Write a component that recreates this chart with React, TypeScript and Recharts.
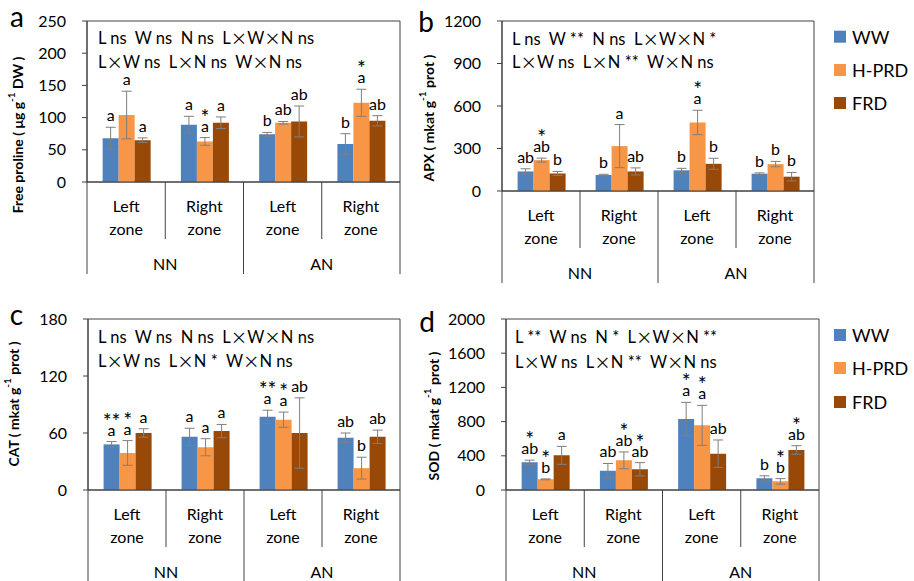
import React from 'react'
import { BarChart, Bar, XAxis, YAxis, ErrorBar, LabelList, ReferenceArea } from 'recharts'

const FONT = 'Lato, "Liberation Sans", sans-serif'
const CJK = '"Noto Sans CJK SC", sans-serif'
const AXIS = '#404040'
const ERR = '#7f7f7f'

const zones = ['Left', 'Right', 'Left', 'Right']
const groups = ['NN', 'NN', 'AN', 'AN']
const seriesNames = ['WW', 'H-PRD', 'FRD']
const colors = ['#4F81BD', '#F79646', '#984807']

// a: free proline
const prolineWW = [68, 89, 74, 59]
const prolineHPRD = [104, 63, 92, 123]
const prolineFRD = [65, 92, 94, 95]
const prolineWWErr = [17, 13, 3, 16]
const prolineHPRDErr = [37, 6, 2, 21]
const prolineFRDErr = [3.5, 9, 24, 8]
const prolineLetters = [['a', 'a', 'b', 'b'], ['a', 'a', 'ab', 'a'], ['a', 'a', 'ab', 'ab']]
const prolineStars = [['', '', '', ''], ['', '*', '', '*'], ['', '', '', '']]
const prolineTicks = [0, 50, 100, 150, 200, 250]
const prolineNotes = ['L ns  W ns  N ns  L×W×N ns', 'L×W ns  L×N ns  W×N ns']

// b: APX
const apxWW = [138, 113, 146, 122]
const apxHPRD = [218, 317, 484, 190]
const apxFRD = [124, 138, 192, 101]
const apxWWErr = [19, 5, 14, 6]
const apxHPRDErr = [14, 152, 86, 19]
const apxFRDErr = [14, 25, 39, 30]
const apxLetters = [['ab', 'b', 'b', 'b'], ['ab', 'a', 'a', 'b'], ['b', 'ab', 'b', 'b']]
const apxStars = [['', '', '', ''], ['*', '', '*', ''], ['', '', '', '']]
const apxTicks = [0, 300, 600, 900, 1200]
const apxNotes = ['L ns  W **  N ns  L×W×N *', 'L×W ns  L×N **  W×N ns']

// c: CAT
const catWW = [48, 56, 77, 55]
const catHPRD = [39, 45, 74, 23]
const catFRD = [60, 62, 60, 56]
const catWWErr = [3, 9, 7, 5]
const catHPRDErr = [13, 9, 8, 11.5]
const catFRDErr = [4.5, 7, 37, 7]
const catLetters = [['a', 'a', 'a', 'ab'], ['a', 'a', 'a', 'b'], ['a', 'a', 'ab', 'ab']]
const catStars = [['**', '', '**', ''], ['*', '', '*', ''], ['', '', '', '']]
const catTicks = [0, 60, 120, 180]
const catNotes = ['L ns  W ns  N ns  L×W×N ns', 'L×W ns  L×N *  W×N ns']

// d: SOD
const sodWW = [324, 226, 830, 136]
const sodHPRD = [125, 347, 756, 101]
const sodFRD = [405, 242, 425, 468]
const sodWWErr = [25, 84, 195, 30]
const sodHPRDErr = [5, 98, 234, 32]
const sodFRDErr = [105, 78, 160, 50]
const sodLetters = [['ab', 'ab', 'a', 'b'], ['b', 'ab', 'a', 'b'], ['a', 'ab', 'ab', 'ab']]
const sodStars = [['*', '', '*', ''], ['*', '*', '*', '*'], ['', '*', '', '*']]
const sodTicks = [0, 400, 800, 1200, 1600, 2000]
const sodNotes = ['L **  W ns  N *  L×W×N **', 'L×W ns  L×N **  W×N ns']

function buildRows(vals: number[][], errs: number[][], letters: string[][], stars: string[][]) {
  return zones.map((z, i) => {
    const r: any = { key: groups[i] + '-' + z, zone: z, group: groups[i] }
    for (let s = 0; s < 3; s++) {
      r['v' + s] = vals[s][i]
      r['e' + s] = errs[s][i]
      r['l' + s] = letters[s][i]
      r['s' + s] = stars[s][i]
    }
    return r
  })
}

const prolineRows = buildRows([prolineWW, prolineHPRD, prolineFRD], [prolineWWErr, prolineHPRDErr, prolineFRDErr], prolineLetters, prolineStars)
const apxRows = buildRows([apxWW, apxHPRD, apxFRD], [apxWWErr, apxHPRDErr, apxFRDErr], apxLetters, apxStars)
const catRows = buildRows([catWW, catHPRD, catFRD], [catWWErr, catHPRDErr, catFRDErr], catLetters, catStars)
const sodRows = buildRows([sodWW, sodHPRD, sodFRD], [sodWWErr, sodHPRDErr, sodFRDErr], sodLetters, sodStars)

type PanelProps = {
  rows: any[]
  ticks: number[]
  left: number
  top: number
  width: number
  height: number
  margin: { top: number; right: number; bottom: number; left: number }
  xHeight: number
}

const Y_W = 40

function Panel({ rows, ticks, left, top, width, height, margin, xHeight }: PanelProps) {
  const plotW = width - margin.left - margin.right - Y_W
  const half = plotW / 8
  const yMax = ticks[ticks.length - 1]

  const zoneTick = (p: any) => {
    const { x, y } = p
    const index = p.index ?? p.payload?.index ?? 0
    const r = rows[index]
    const long = index === 1 || index === 3
    return (
      <g>
        <text x={x} y={y + 23} textAnchor="middle" dominantBaseline="central" fontSize={16} fontFamily={FONT} fill="#000">{r.zone}</text>
        <text x={x} y={y + 46} textAnchor="middle" dominantBaseline="central" fontSize={16} fontFamily={FONT} fill="#000">zone</text>
        <line x1={x + half} x2={x + half} y1={y} y2={y + (long ? 92 : 57)} stroke={AXIS} />
        {index === 0 && <line x1={x - half} x2={x - half} y1={y} y2={y + 92} stroke={AXIS} />}
        {index % 2 === 0 && (
          <text x={x + half} y={y + 81} textAnchor="middle" dominantBaseline="central" fontSize={16} fontFamily={FONT} fill="#000">{r.group}</text>
        )}
      </g>
    )
  }

  const makeLabel = (s: number) => (p: any) => {
    const vb = p.viewBox && p.viewBox.width !== undefined ? p.viewBox : p
    const { x, y, width: w, height: h } = vb
    const index = p.index ?? 0
    const r = rows[index]
    const v = r['v' + s]
    const ppu = v ? Math.abs(h) / v : 0
    const errTop = Math.min(y, y + h) - r['e' + s] * ppu
    const cx = x + w / 2
    const base = errTop - 6
    return (
      <g>
        {r['s' + s] && (
          <text x={cx} y={base - 7} textAnchor="middle" fontSize={21} fontFamily={FONT} fill="#000">{r['s' + s]}</text>
        )}
        <text x={cx} y={base} textAnchor="middle" fontSize={16} fontFamily={FONT} fill="#000">{r['l' + s]}</text>
      </g>
    )
  }

  return (
    <div style={{ position: 'absolute', left, top }}>
      <BarChart width={width} height={height} data={rows} margin={margin} barCategoryGap="20%" barGap={0}>
        <ReferenceArea y1={0} y2={yMax} fill="none" stroke={AXIS} strokeWidth={1} ifOverflow="visible" />
        <XAxis
          dataKey="key"
          interval={0}
          tickLine={false}
          tickSize={0}
          tickMargin={0}
          axisLine={{ stroke: AXIS }}
          height={xHeight}
          tick={zoneTick}
        />
        <YAxis
          domain={[0, yMax]}
          ticks={ticks}
          width={Y_W}
          tickSize={5}
          tickMargin={16}
          axisLine={{ stroke: AXIS }}
          tickLine={{ stroke: AXIS }}
          tick={{ fontSize: 16, fill: '#000', fontFamily: FONT }}
          allowDataOverflow
        />
        {[0, 1, 2].map((s) => (
          <Bar key={s} dataKey={'v' + s} name={seriesNames[s]} fill={colors[s]} isAnimationActive={false}>
            <ErrorBar dataKey={'e' + s} width={5} stroke={ERR} strokeWidth={1} direction="y" />
            <LabelList dataKey={'l' + s} content={makeLabel(s)} />
          </Bar>
        ))}
      </BarChart>
    </div>
  )
}

function Mixed({ text }: { text: string }) {
  const parts = text.split('×')
  return (
    <>
      {parts.map((p, i) => (
        <React.Fragment key={i}>
          {i > 0 && <tspan fontFamily={CJK}>×</tspan>}
          <tspan fontFamily={FONT}>{p}</tspan>
        </React.Fragment>
      ))}
    </>
  )
}

function Notes({ lines, x, y1, y2 }: { lines: string[]; x: number; y1: number; y2: number }) {
  return (
    <>
      <text x={x} y={y1} dominantBaseline="central" fontSize={16.5} fill="#000" style={{ whiteSpace: 'pre' }}><Mixed text={lines[0]} /></text>
      <text x={x} y={y2} dominantBaseline="central" fontSize={16.5} fill="#000" style={{ whiteSpace: 'pre' }}><Mixed text={lines[1]} /></text>
    </>
  )
}

function YTitle({ cx, cy, name, unit }: { cx: number; cy: number; name: string; unit: string }) {
  return (
    <text x={cx} y={cy} transform={`rotate(-90 ${cx} ${cy})`} textAnchor="middle" dominantBaseline="central" fontSize={14} fontWeight="bold" fontFamily={FONT} fill="#000" style={{ whiteSpace: 'pre' }}>
      {name} ( {unit} g<tspan dy={-6} fontSize={10}>-1</tspan><tspan dy={6}> {name === 'Free proline' ? 'DW' : 'prot'} )</tspan>
    </text>
  )
}

function LegendBlock({ x, ys }: { x: number; ys: number[] }) {
  return (
    <>
      {seriesNames.map((n, i) => (
        <g key={n}>
          <rect x={x} y={ys[i] - 6} width={12} height={12} fill={colors[i]} />
          <text x={x + 18} y={ys[i]} dominantBaseline="central" fontSize={18} fontFamily={FONT} fill="#000">{n}</text>
        </g>
      ))}
    </>
  )
}

export default function App() {
  return (
    <div style={{ position: 'absolute', left: 0, top: 0, width: 914, height: 581, background: '#fff', fontFamily: FONT }}>
      <Panel rows={prolineRows} ticks={prolineTicks} left={0} top={0} width={430} height={290}
        margin={{ top: 21, right: 30, bottom: 8, left: 47 }} xHeight={100} />
      <Panel rows={apxRows} ticks={apxTicks} left={430} top={0} width={484} height={290}
        margin={{ top: 21, right: 100, bottom: 4, left: 32 }} xHeight={95} />
      <Panel rows={catRows} ticks={catTicks} left={0} top={295} width={430} height={286}
        margin={{ top: 24, right: 30, bottom: 3, left: 48 }} xHeight={88} />
      <Panel rows={sodRows} ticks={sodTicks} left={430} top={295} width={484} height={286}
        margin={{ top: 24, right: 95, bottom: 3, left: 36 }} xHeight={88} />
      <svg width={914} height={581} style={{ position: 'absolute', left: 0, top: 0, pointerEvents: 'none' }}>
        <text x={17} y={26.5} textAnchor="middle" fontSize={28} fontFamily={FONT} fill="#000">a</text>
        <text x={426} y={32} textAnchor="middle" fontSize={28} fontFamily={FONT} fill="#000">b</text>
        <text x={16.5} y={325} textAnchor="middle" fontSize={28} fontFamily={FONT} fill="#000">c</text>
        <text x={427} y={332} textAnchor="middle" fontSize={28} fontFamily={FONT} fill="#000">d</text>
        <YTitle cx={17} cy={135} name="Free proline" unit="μg" />
        <YTitle cx={428} cy={118} name="APX" unit="mkat" />
        <YTitle cx={13} cy={404} name="CAT" unit="mkat" />
        <YTitle cx={433} cy={416} name="SOD" unit="mkat" />
        <Notes lines={prolineNotes} x={98} y1={38} y2={62} />
        <Notes lines={apxNotes} x={512} y1={39} y2={62} />
        <Notes lines={catNotes} x={98} y1={337} y2={361} />
        <Notes lines={sodNotes} x={515} y1={337} y2={362} />
        <LegendBlock x={834} ys={[36.7, 70, 103]} />
        <LegendBlock x={834} ys={[335, 368, 402]} />
      </svg>
    </div>
  )
}
